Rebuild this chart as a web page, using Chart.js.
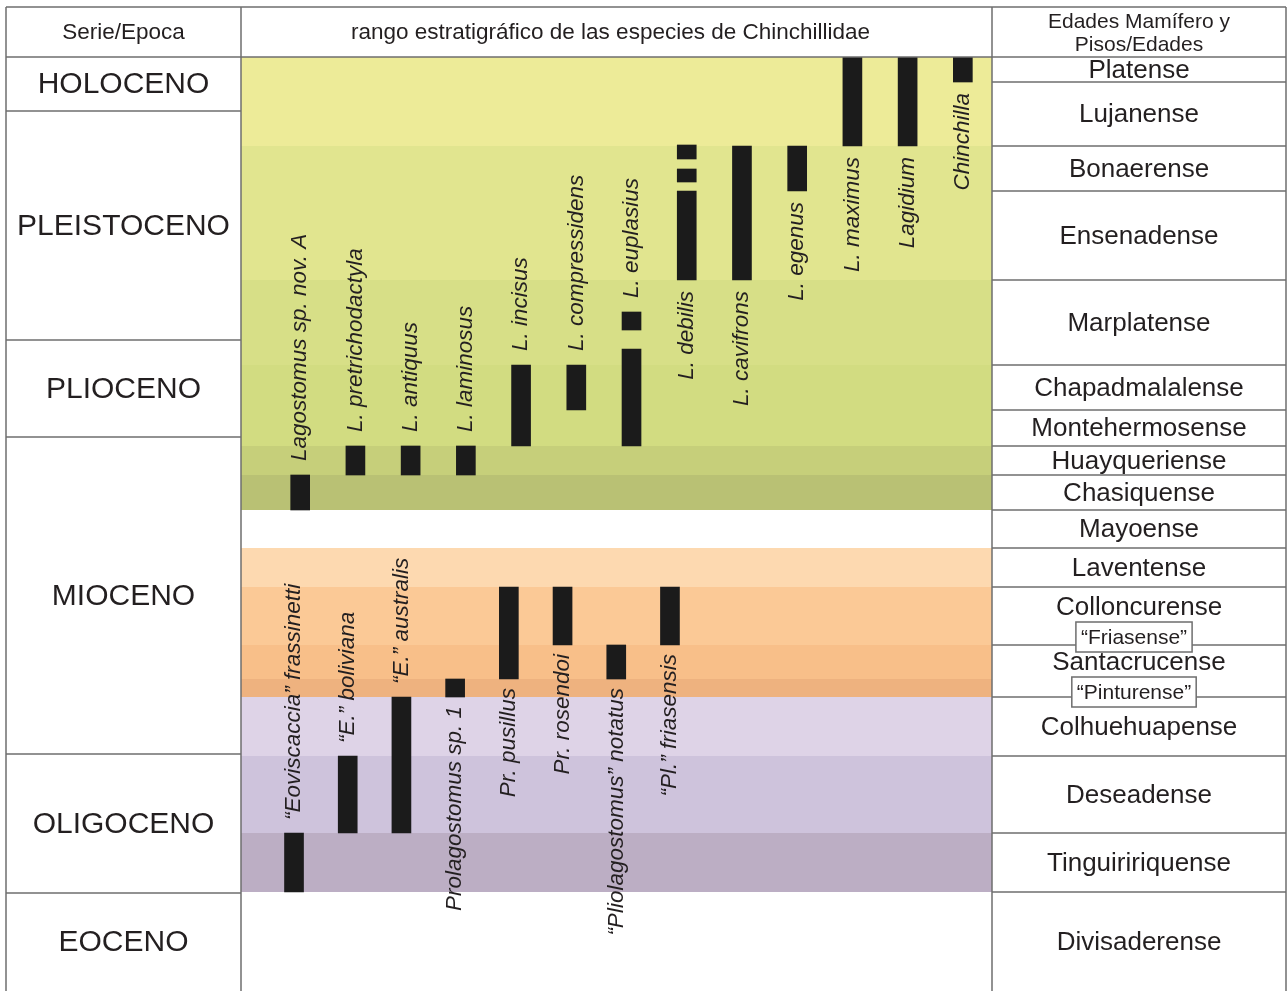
<!DOCTYPE html>
<html lang="es">
<head>
  <meta charset="UTF-8">
  <title>Rango estratigráfico de las especies de Chinchillidae</title>
  <script src="https://cdn.jsdelivr.net/npm/chart.js@4"></script>
  <style>
    html, body { margin: 0; padding: 0; background: #fff; }
    #grafico { display: block; }
  </style>
</head>
<body>
<canvas id="grafico" width="1287" height="991"></canvas>
<script>
  // Escala vertical relativa: 0 = techo del cuadro (Platense), 934 = base (Divisaderense)

  // Edades Mamífero, de arriba hacia abajo, y sus límites
  const edades = ['Platense', 'Lujanense', 'Bonaerense', 'Ensenadense', 'Marplatense', 'Chapadmalalense',
    'Montehermosense', 'Huayqueriense', 'Chasiquense', 'Mayoense', 'Laventense', 'Colloncurense',
    'Santacrucense', 'Colhuehuapense', 'Deseadense', 'Tinguiririquense', 'Divisaderense'];
  const limitesEdades = [0, 25, 89, 134, 223, 308, 353, 389, 418, 453, 491, 530, 588, 640, 699, 776, 835, 934];

  // Subedades en recuadro
  const subEdades = { 'Colloncurense': '“Friasense”', 'Santacrucense': '“Pinturense”' };

  // Series / épocas
  const epocas = ['HOLOCENO', 'PLEISTOCENO', 'PLIOCENO', 'MIOCENO', 'OLIGOCENO', 'EOCENO'];
  const limitesEpocas = [0, 54, 283, 380, 697, 836, 934];

  // Franjas de color del fondo
  const limitesFranjas = [0, 89, 223, 308, 389, 418, 453, 491, 530, 588, 622, 640, 699, 776, 835];
  const coloresFranjas = ['#edeb98', '#e1e58f', '#d7df87', '#d2dc81', '#c6cf7a', '#b9c174', '#ffffff',
    '#fdd9b0', '#fbc996', '#f8bf89', '#eeb27f', '#ded3e7', '#cec3dc', '#bcaec4'];

  // Especies de Lagostomus y afines (grupo superior)
  const especiesSup = ['Lagostomus sp. nov. A', 'L. pretrichodactyla', 'L. antiquus', 'L. laminosus',
    'L. incisus', 'L. compressidens', 'L. euplasius', 'L. debilis', 'L. cavifrons', 'L. egenus',
    'L. maximus', 'Lagidium', 'Chinchilla'];
  const rangoSup = [[418, 453], [389, 418], [389, 418], [389, 418], [308, 389], [308, 353], [292, 389],
    [134, 223], [89, 223], [89, 134], [0, 89], [0, 89], [0, 25]];
  const fragmentoSup1 = [null, null, null, null, null, null, [255, 273], [88, 102], null, null, null, null, null];
  const fragmentoSup2 = [null, null, null, null, null, null, null, [112, 125], null, null, null, null, null];

  // Especies de Eoviscaccia / Prolagostomus (grupo inferior)
  const especiesInf = ['“Eoviscaccia” frassinetti', '“E.” boliviana', '“E.” australis', 'Prolagostomus sp. 1',
    'Pr. pusillus', 'Pr. rosendoi', '“Pliolagostomus” notatus', '“Pl.” friasensis'];
  const rangoInf = [[776, 835], [699, 776], [640, 776], [622, 640], [530, 622], [530, 588], [588, 622], [530, 588]];

  const FUENTE = '"Liberation Sans", Arial, sans-serif';
  const TINTA = '#231f20';
  const LINEA = '#6e6e6e';

  const aPuntos = rangos => rangos.map((r, i) => r ? { x: i, y: r } : null).filter(p => p);

  function linea(ctx, x1, y1, x2, y2) {
    ctx.beginPath();
    ctx.moveTo(x1, y1);
    ctx.lineTo(x2, y2);
    ctx.stroke();
  }

  function rotulo(ctx, texto, x, y, arriba) {
    ctx.save();
    ctx.translate(x, y);
    ctx.rotate(-Math.PI / 2);
    ctx.textAlign = arriba ? 'left' : 'right';
    ctx.textBaseline = 'middle';
    ctx.fillText(texto, 0, 0);
    ctx.restore();
  }

  // Extremos (arriba / abajo) de todos los tramos de una especie
  function extremos(tramos, ys) {
    const v = tramos.filter(t => t).flat();
    return { top: ys.getPixelForValue(Math.min(...v)), bottom: ys.getPixelForValue(Math.max(...v)) };
  }

  const cuadro = {
    id: 'cuadro',
    beforeDraw(chart) {
      const ctx = chart.ctx;
      ctx.save();
      ctx.fillStyle = '#fff';
      ctx.fillRect(0, 0, chart.width, chart.height);
      ctx.restore();
    },
    beforeDatasetsDraw(chart) {
      const { ctx, chartArea: a, scales: { y } } = chart;
      ctx.save();
      coloresFranjas.forEach((c, i) => {
        const y1 = y.getPixelForValue(limitesFranjas[i]);
        const y2 = y.getPixelForValue(limitesFranjas[i + 1]);
        ctx.fillStyle = c;
        ctx.fillRect(a.left, y1, a.right - a.left, y2 - y1);
      });
      ctx.restore();
    },
    afterDatasetsDraw(chart) {
      const { ctx, chartArea: a, scales: { y } } = chart;
      const X0 = 6, X1 = 1286, Y0 = 7;
      const XA = a.left, XB = a.right, YH = a.top, YF = a.bottom;
      ctx.save();

      // rótulos de especies
      ctx.fillStyle = TINTA;
      ctx.font = 'italic 22.5px ' + FUENTE;
      const metaSup = chart.getDatasetMeta(0);
      especiesSup.forEach((nombre, i) => {
        const e = extremos([rangoSup[i], fragmentoSup1[i], fragmentoSup2[i]], y);
        const arriba = i < 7;
        rotulo(ctx, nombre, metaSup.data[i].x, arriba ? e.top - 14 : e.bottom + 11, arriba);
      });
      const metaInf = chart.getDatasetMeta(3);
      especiesInf.forEach((nombre, i) => {
        const e = extremos([rangoInf[i]], y);
        const arriba = i < 3;
        rotulo(ctx, nombre, metaInf.data[i].x, arriba ? e.top - 13 : e.bottom + 9, arriba);
      });

      // líneas del cuadro
      ctx.strokeStyle = LINEA;
      ctx.lineWidth = 1.5;
      linea(ctx, X0, Y0, X1, Y0);
      linea(ctx, X0, YH, X1, YH);
      [X0, XA, XB, X1].forEach(x => linea(ctx, x, Y0, x, YF));
      limitesEpocas.slice(1, -1).forEach(v => linea(ctx, X0, y.getPixelForValue(v), XA, y.getPixelForValue(v)));
      limitesEdades.slice(1, -1).forEach(v => linea(ctx, XB, y.getPixelForValue(v), X1, y.getPixelForValue(v)));

      // encabezados
      ctx.fillStyle = TINTA;
      ctx.textAlign = 'center';
      ctx.textBaseline = 'middle';
      ctx.font = '22.5px ' + FUENTE;
      ctx.fillText('Serie/Epoca', (X0 + XA) / 2, 33);
      ctx.fillText('rango estratigráfico de las especies de Chinchillidae', (XA + XB) / 2 - 6, 33);
      ctx.font = '21px ' + FUENTE;
      ctx.fillText('Edades Mamífero y', (XB + X1) / 2, 22);
      ctx.fillText('Pisos/Edades', (XB + X1) / 2, 45);

      // épocas
      ctx.font = '30px ' + FUENTE;
      epocas.forEach((t, i) => {
        const yc = (y.getPixelForValue(limitesEpocas[i]) + y.getPixelForValue(limitesEpocas[i + 1])) / 2;
        ctx.fillText(t, (X0 + XA) / 2, yc + 1);
      });

      // edades
      const xc = (XB + X1) / 2;
      edades.forEach((t, i) => {
        const yc = (y.getPixelForValue(limitesEdades[i]) + y.getPixelForValue(limitesEdades[i + 1])) / 2;
        const sub = subEdades[t];
        ctx.font = '26px ' + FUENTE;
        ctx.fillStyle = TINTA;
        ctx.fillText(t, xc, sub ? yc - 8 : yc + 1);
        if (sub) {
          ctx.font = '21px ' + FUENTE;
          const w = ctx.measureText(sub).width + 10;
          const by = yc + 21;
          ctx.fillStyle = '#fff';
          ctx.fillRect(xc - 5 - w / 2, by - 15, w, 30);
          ctx.strokeRect(xc - 5 - w / 2, by - 15, w, 30);
          ctx.fillStyle = TINTA;
          ctx.fillText(sub, xc - 5, by + 1);
        }
      });
      ctx.restore();
    }
  };

  const barra = { grouped: false, barThickness: 19, backgroundColor: '#1b1b1b', borderWidth: 0, borderSkipped: false };

  new Chart(document.getElementById('grafico'), {
    type: 'bar',
    data: {
      datasets: [
        { ...barra, data: aPuntos(rangoSup), xAxisID: 'x' },
        { ...barra, data: aPuntos(fragmentoSup1), xAxisID: 'x' },
        { ...barra, data: aPuntos(fragmentoSup2), xAxisID: 'x' },
        { ...barra, data: aPuntos(rangoInf), xAxisID: 'x2' }
      ]
    },
    options: {
      responsive: false,
      animation: false,
      layout: { padding: { left: 241, right: 295, top: 57, bottom: 0 } },
      plugins: { legend: { display: false }, tooltip: { enabled: false } },
      scales: {
        x: { type: 'linear', display: false, offset: false, min: -1.072, max: 12.528 },
        x2: { type: 'linear', display: false, offset: false, min: -0.987, max: 12.996 },
        y: { type: 'linear', display: false, reverse: true, min: 0, max: 934 }
      }
    },
    plugins: [cuadro]
  });
</script>
</body>
</html>
